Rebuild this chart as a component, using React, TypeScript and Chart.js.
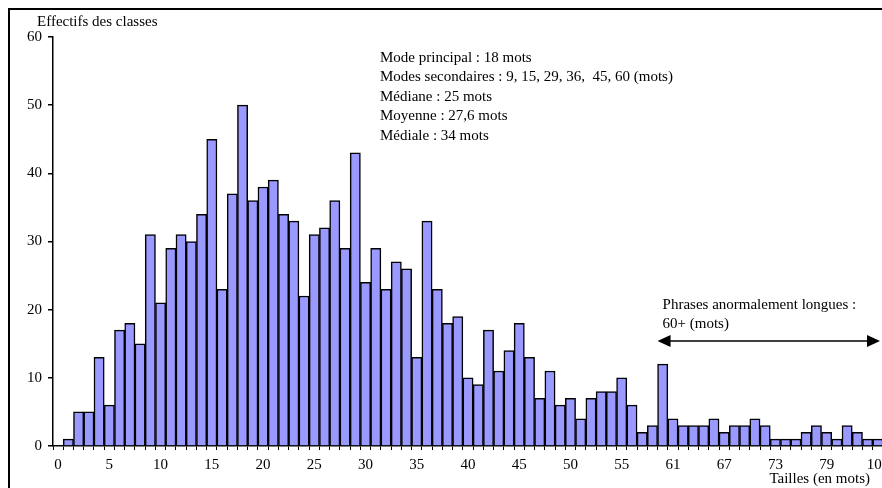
import { useEffect, useRef } from 'react';
import { Chart, registerables } from 'chart.js';

Chart.register(...registerables);

// Sentence sizes (words) — one category per non-empty size
const sizes = [
  '0', '1', '2', '3', '4', '5', '6', '7', '8', '9',
  '10', '11', '12', '13', '14', '15', '16', '17', '18', '19',
  '20', '21', '22', '23', '24', '25', '26', '27', '28', '29',
  '30', '31', '32', '33', '34', '35', '36', '37', '38', '39',
  '40', '41', '42', '43', '44', '45', '46', '47', '48', '49',
  '50', '51', '52', '53', '54', '55', '56', '57', '58', '60',
  '61', '62', '63', '64', '65', '67', '68', '69', '70', '71',
  '73', '74', '75', '76', '77', '79', '83', '86', '90', '95',
  '104',
];

// Class counts (effectifs des classes)
const counts = [
  0, 1, 5, 5, 13, 6, 17, 18, 15, 31,
  21, 29, 31, 30, 34, 45, 23, 37, 50, 36,
  38, 39, 34, 33, 22, 31, 32, 36, 29, 43,
  24, 29, 23, 27, 26, 13, 33, 23, 18, 19,
  10, 9, 17, 11, 14, 18, 13, 7, 11, 6,
  7, 4, 7, 8, 8, 10, 6, 2, 3, 12,
  4, 3, 3, 3, 4, 2, 3, 3, 4, 3,
  1, 1, 1, 2, 3, 2, 1, 3, 2, 1,
  1,
];

const yTicks = [0, 10, 20, 30, 40, 50, 60];

const statsLines = [
  'Mode principal : 18 mots',
  'Modes secondaires : 9, 15, 29, 36,  45, 60 (mots)',
  'Médiane : 25 mots',
  'Moyenne : 27,6 mots',
  'Médiale : 34 mots',
];
const longLines = ['Phrases anormalement longues :', '60+ (mots)'];
const longStartSize = '60';
const yTitle = 'Effectifs des classes';
const xTitle = 'Tailles (en mots)';

const FONT = '"Liberation Serif", "Times New Roman", serif';

export default function App() {
  const ref = useRef<HTMLCanvasElement>(null);

  useEffect(() => {
    const canvas = ref.current!;
    const overlay = {
      id: 'overlay',
      afterDraw(chart: any) {
        const ctx = chart.ctx as CanvasRenderingContext2D;
        const xs = chart.scales.x;
        const area = chart.chartArea;
        ctx.save();
        // frame
        ctx.strokeStyle = '#000';
        ctx.lineWidth = 2;
        ctx.strokeRect(9, 9, 1200, 1200);

        ctx.fillStyle = '#000';
        ctx.font = `15px ${FONT}`;
        ctx.textBaseline = 'alphabetic';
        ctx.textAlign = 'left';
        ctx.fillText(yTitle, 37, 26);

        statsLines.forEach((t, i) => ctx.fillText(t, 380, 62 + i * 19.4));

        // long sentences arrow
        const idx = sizes.indexOf(longStartSize);
        const half = (xs.getPixelForValue(1) - xs.getPixelForValue(0)) / 2;
        const x0 = xs.getPixelForValue(idx) - half;
        const x1 = area.right - 3;
        const ay = 341;
        longLines.forEach((t, i) => ctx.fillText(t, x0 + 5, 309 + i * 19));
        ctx.lineWidth = 1.5;
        ctx.beginPath();
        ctx.moveTo(x0 + 6, ay);
        ctx.lineTo(x1 - 6, ay);
        ctx.stroke();
        ctx.beginPath();
        ctx.moveTo(x0, ay);
        ctx.lineTo(x0 + 13, ay - 6);
        ctx.lineTo(x0 + 13, ay + 6);
        ctx.closePath();
        ctx.fill();
        ctx.beginPath();
        ctx.moveTo(x1, ay);
        ctx.lineTo(x1 - 13, ay - 6);
        ctx.lineTo(x1 - 13, ay + 6);
        ctx.closePath();
        ctx.fill();

        ctx.textAlign = 'right';
        ctx.fillText(xTitle, 870, 483);
        ctx.restore();
      },
    };

    const chart = new Chart(canvas, {
      type: 'bar',
      data: {
        labels: sizes,
        datasets: [
          {
            data: counts,
            backgroundColor: '#9999FF',
            borderColor: '#000000',
            borderWidth: 1.5,
            categoryPercentage: 1,
            barPercentage: 1,
          },
        ],
      },
      options: {
        responsive: false,
        maintainAspectRatio: false,
        devicePixelRatio: 1,
        animation: false,
        layout: { padding: { left: 21, top: 37, right: 17, bottom: 8 } },
        plugins: {
          legend: { display: false },
          tooltip: { enabled: false },
          title: { display: false },
        },
        scales: {
          x: {
            type: 'category',
            offset: true,
            grid: {
              display: true,
              offset: true,
              drawOnChartArea: false,
              drawTicks: true,
              tickLength: 4,
              color: '#000',
              lineWidth: 1,
            },
            border: { display: true, color: '#000', width: 1.5 },
            ticks: {
              autoSkip: false,
              maxRotation: 0,
              minRotation: 0,
              padding: 6,
              color: '#000',
              font: { family: FONT, size: 15 },
              callback: (_v: any, i: number) => (i % 5 === 0 ? sizes[i] : ''),
            },
          },
          y: {
            min: yTicks[0],
            max: yTicks[yTicks.length - 1],
            afterBuildTicks: (s: any) => {
              s.ticks = yTicks.map((v) => ({ value: v }));
            },
            grid: {
              display: true,
              drawOnChartArea: false,
              drawTicks: true,
              tickLength: 5,
              color: '#000',
              lineWidth: 1.5,
            },
            border: { display: true, color: '#000', width: 1.5 },
            ticks: {
              padding: 6,
              color: '#000',
              font: { family: FONT, size: 15 },
            },
          },
        },
      },
      plugins: [overlay],
    } as any);

    return () => chart.destroy();
  }, []);

  return (
    <div
      style={{
        position: 'fixed',
        left: 0,
        top: 0,
        width: 882,
        height: 488,
        overflow: 'hidden',
        background: '#fff',
      }}
    >
      <canvas ref={ref} width={900} height={488} style={{ display: 'block', width: 900, height: 488 }} />
    </div>
  );
}
